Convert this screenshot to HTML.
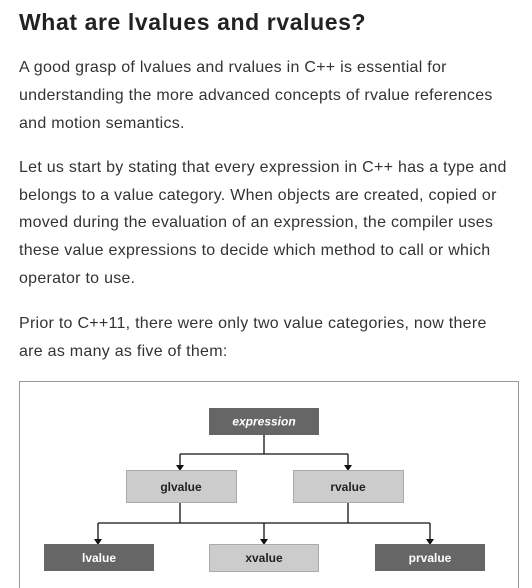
<!DOCTYPE html>
<html><head><meta charset="utf-8"><style>
body{margin:0;width:532px;height:588px;background:#fff;overflow:hidden;position:relative;font-family:"Liberation Sans",sans-serif}
.h{position:absolute;left:19px;top:7px;font-size:23px;font-weight:bold;color:#222;line-height:30px;letter-spacing:0.6px}
.l{position:absolute;left:19px;font-size:16px;color:#333;line-height:20px;white-space:nowrap;letter-spacing:0.27px}
</style></head><body>
<div class="h">What are lvalues and rvalues?</div>
<div class="l" style="top:58px">A good grasp of lvalues and rvalues in C++ is essential for</div>
<div class="l" style="top:86px">understanding the more advanced concepts of rvalue references</div>
<div class="l" style="top:114px">and motion semantics.</div>
<div class="l" style="top:158px">Let us start by stating that every expression in C++ has a type and</div>
<div class="l" style="top:186px">belongs to a value category. When objects are created, copied or</div>
<div class="l" style="top:213px">moved during the evaluation of an expression, the compiler uses</div>
<div class="l" style="top:241px">these value expressions to decide which method to call or which</div>
<div class="l" style="top:269px">operator to use.</div>
<div class="l" style="top:314px">Prior to C++11, there were only two value categories, now there</div>
<div class="l" style="top:342px">are as many as five of them:</div>
<svg style="position:absolute;left:0;top:0" width="532" height="588" font-family="Liberation Sans, sans-serif" font-size="12" font-weight="bold" text-anchor="middle">
<rect x="19.5" y="381.5" width="499" height="220" fill="none" stroke="#999"/>
<rect x="209" y="408" width="110" height="27" fill="#666"/>
<text x="264" y="425.5" fill="#fff" font-style="italic">expression</text>
<g stroke="#111" stroke-width="1.3" fill="none">
<path d="M264 435V454M180 454H348M180 454V466M348 454V466"/>
<path d="M180 503V523M348 503V523M98 523H430M98 523V540M264 523V540M430 523V540"/>
</g>
<g fill="#111">
<path d="M176 465h8l-4 6z"/><path d="M344 465h8l-4 6z"/>
<path d="M94 539h8l-4 6z"/><path d="M260 539h8l-4 6z"/><path d="M426 539h8l-4 6z"/>
</g>
<rect x="126.5" y="470.5" width="110" height="32" fill="#ccc" stroke="#aaa"/>
<text x="181" y="491" fill="#222">glvalue</text>
<rect x="293.5" y="470.5" width="110" height="32" fill="#ccc" stroke="#aaa"/>
<text x="348" y="491" fill="#222">rvalue</text>
<rect x="44" y="544" width="110" height="27" fill="#666"/>
<text x="99" y="562" fill="#fff">lvalue</text>
<rect x="209.5" y="544.5" width="109" height="27" fill="#ccc" stroke="#aaa"/>
<text x="264" y="562" fill="#222">xvalue</text>
<rect x="375" y="544" width="110" height="27" fill="#666"/>
<text x="430" y="562" fill="#fff">prvalue</text>
</svg>
</body></html>
